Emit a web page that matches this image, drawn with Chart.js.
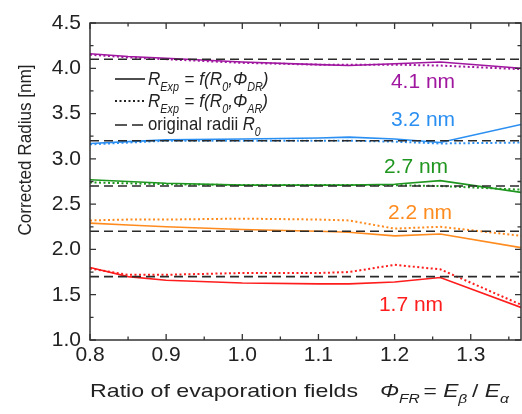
<!DOCTYPE html>
<html>
<head>
<meta charset="utf-8">
<script src="https://cdn.jsdelivr.net/npm/chart.js@4.4.0/dist/chart.umd.min.js"></script>
<style>
    html, body { margin: 0; padding: 0; background: #fff; }
    canvas { display: block; }
</style>
</head>
<body>
<canvas id="radiusChart" width="522" height="414"></canvas>
<script>
// Ratio of evaporation fields (x positions of the computed points)
const fieldRatios = [0.8, 0.85, 0.9, 1.0, 1.1, 1.14, 1.2, 1.26, 1.366];

// Solid lines: R_Exp = f(R0, Phi_DR); dotted lines: R_Exp = f(R0, Phi_AR)
const r41Dr = [4.16, 4.13, 4.11, 4.07, 4.04, 4.03, 4.05, 4.07, 4.00];
const r41Ar = [4.15, 4.12, 4.10, 4.06, 4.04, 4.04, 4.04, 4.03, 3.99];
const r32Dr = [3.17, 3.19, 3.21, 3.22, 3.23, 3.24, 3.22, 3.18, 3.38];
const r32Ar = [3.16, 3.18, 3.20, 3.20, 3.20, 3.20, 3.19, 3.17, 3.18];
const r27Dr = [2.77, 2.75, 2.73, 2.71, 2.71, 2.71, 2.72, 2.76, 2.63];
const r27Ar = [2.74, 2.73, 2.72, 2.71, 2.71, 2.71, 2.71, 2.70, 2.66];
const r22Dr = [2.29, 2.27, 2.25, 2.22, 2.20, 2.19, 2.15, 2.17, 2.02];
const r22Ar = [2.32, 2.33, 2.33, 2.34, 2.33, 2.32, 2.23, 2.25, 2.15];
const r17Dr = [1.80, 1.70, 1.66, 1.63, 1.62, 1.62, 1.64, 1.69, 1.36];
const r17Ar = [1.79, 1.72, 1.72, 1.74, 1.74, 1.75, 1.83, 1.78, 1.39];

// Original radii R0 and their labels
const originalRadii = [4.1, 3.2, 2.7, 2.2, 1.7];
const radiusLabels = ['4.1 nm', '3.2 nm', '2.7 nm', '2.2 nm', '1.7 nm'];
const radiusColors = ['#a0179f', '#2b8ff2', '#1f961f', '#ff8b1f', '#ff1c1c'];

const xTickValues = [0.8, 0.9, 1.0, 1.1, 1.2, 1.3];
const X_MIN = 0.8, X_MAX = 1.366, Y_MIN = 1.0, Y_MAX = 4.5;

const FONT = '"Liberation Sans", Arial, sans-serif';
const INK = '#222';

const toPoints = vals => vals.map((v, i) => ({ x: fieldRatios[i], y: v }));

const datasets = [];
[[r41Dr, r41Ar], [r32Dr, r32Ar], [r27Dr, r27Ar], [r22Dr, r22Ar], [r17Dr, r17Ar]].forEach((pair, i) => {
    datasets.push({
        data: toPoints(pair[0]), borderColor: radiusColors[i], borderWidth: 1.6,
        pointRadius: 0, tension: 0, order: 3
    });
    datasets.push({
        data: toPoints(pair[1]), borderColor: radiusColors[i], borderWidth: 2,
        borderDash: [2, 2.5], pointRadius: 0, tension: 0, order: 2
    });
});
originalRadii.forEach(r => {
    datasets.push({
        data: [{ x: X_MIN, y: r }, { x: X_MAX, y: r }], borderColor: '#2a2a2a', borderWidth: 1.6,
        borderDash: [9, 5], pointRadius: 0, order: 1
    });
});

// Draws a run of text pieces (italic / subscript) starting at x, baseline y
function drawRich(ctx, x, y, parts, size, subSize, sx) {
    ctx.save();
    ctx.translate(x, y);
    ctx.scale(sx, 1);
    let cx = 0;
    parts.forEach(p => {
        const fs = p.sub ? subSize : size;
        ctx.font = `${p.it ? 'italic ' : ''}${fs}px ${FONT}`;
        ctx.fillText(p.t, cx, p.sub ? size * 0.32 : 0);
        cx += ctx.measureText(p.t).width + (p.gap || 0);
    });
    ctx.restore();
}

const decorPlugin = {
    id: 'decor',
    afterDatasetsDraw(chart) {
        const { ctx, chartArea: a, scales } = chart;
        const xs = scales.x, ys = scales.y;
        ctx.save();

        // frame
        ctx.strokeStyle = '#333';
        ctx.lineWidth = 1.5;
        ctx.strokeRect(a.left, a.top, a.right - a.left, a.bottom - a.top);

        // inward ticks on all four sides
        ctx.lineWidth = 1.3;
        ctx.beginPath();
        for (let v = 0.8; v <= X_MAX + 1e-9; v += 0.05) {
            const px = xs.getPixelForValue(v);
            const major = Math.abs(Math.round(v * 10) - v * 10) < 1e-6;
            const len = major ? 6 : 3.5;
            ctx.moveTo(px, a.bottom); ctx.lineTo(px, a.bottom - len);
            ctx.moveTo(px, a.top); ctx.lineTo(px, a.top + len);
        }
        for (let v = Y_MIN; v <= Y_MAX + 1e-9; v += 0.25) {
            const py = ys.getPixelForValue(v);
            const major = Math.abs(Math.round(v * 2) - v * 2) < 1e-6;
            const len = major ? 6 : 3.5;
            ctx.moveTo(a.left, py); ctx.lineTo(a.left + len, py);
            ctx.moveTo(a.right, py); ctx.lineTo(a.right - len, py);
        }
        ctx.stroke();

        // legend
        ctx.strokeStyle = '#222';
        ctx.lineWidth = 1.6;
        const lx0 = 115, lx1 = 145;
        const rows = [79, 101, 125];
        ctx.setLineDash([]);
        ctx.beginPath(); ctx.moveTo(lx0, rows[0]); ctx.lineTo(lx1, rows[0]); ctx.stroke();
        ctx.lineWidth = 2;
        ctx.setLineDash([2, 2.5]);
        ctx.beginPath(); ctx.moveTo(lx0, rows[1]); ctx.lineTo(lx1, rows[1]); ctx.stroke();
        ctx.lineWidth = 1.6;
        ctx.setLineDash([12, 5]);
        ctx.beginPath(); ctx.moveTo(lx0, rows[2]); ctx.lineTo(lx1 - 2, rows[2]); ctx.stroke();
        ctx.setLineDash([]);

        ctx.fillStyle = INK;
        ctx.textBaseline = 'alphabetic';
        ctx.textAlign = 'left';
        const fitParts = sub => [
            { t: 'R', it: true }, { t: 'Exp', it: true, sub: true, gap: 1 },
            { t: ' = ' }, { t: 'f(R', it: true }, { t: '0', it: true, sub: true },
            { t: ',', it: true }, { t: 'Φ', it: true }, { t: sub, it: true, sub: true }, { t: ')', it: true }
        ];
        drawRich(ctx, 148, rows[0] + 6, fitParts('DR'), 19, 12, 0.9);
        drawRich(ctx, 148, rows[1] + 6, fitParts('AR'), 19, 12, 0.9);
        drawRich(ctx, 148, rows[2] + 5, [{ t: 'original radii ' }, { t: 'R', it: true }, { t: '0', it: true, sub: true }], 19, 12, 0.88);

        // radius labels
        const labelPos = [[423, 82], [423, 120], [416, 167], [420, 213], [411, 305]];
        ctx.textAlign = 'center';
        ctx.textBaseline = 'middle';
        ctx.font = `21px ${FONT}`;
        radiusLabels.forEach((t, i) => {
            ctx.fillStyle = radiusColors[i];
            ctx.fillText(t, labelPos[i][0], labelPos[i][1]);
        });

        // axis titles
        ctx.fillStyle = INK;
        ctx.textAlign = 'left';
        ctx.textBaseline = 'alphabetic';
        drawRich(ctx, 90, 397, [{ t: 'Ratio of evaporation fields' }], 19, 12, 1.22);
        drawRich(ctx, 380, 397, [
            { t: 'Φ', it: true }, { t: 'FR', it: true, sub: true, gap: 3 }, { t: '= ' },
            { t: 'E', it: true }, { t: 'β', it: true, sub: true, gap: 4 }, { t: '/ ' },
            { t: 'E', it: true }, { t: 'α', it: true, sub: true }
        ], 19, 13, 1.2);

        ctx.save();
        ctx.translate(31, 150);
        ctx.rotate(-Math.PI / 2);
        ctx.scale(0.9, 1);
        ctx.textAlign = 'center';
        ctx.font = `19px ${FONT}`;
        ctx.fillText('Corrected Radius [nm]', 0, 0);
        ctx.restore();

        ctx.restore();
    }
};

new Chart(document.getElementById('radiusChart'), {
    type: 'line',
    data: { datasets: datasets },
    options: {
        responsive: false,
        animation: false,
        devicePixelRatio: 1,
        layout: { padding: { top: 23, right: 1, left: 0, bottom: 0 } },
        plugins: { legend: { display: false }, tooltip: { enabled: false } },
        scales: {
            x: {
                type: 'linear', min: X_MIN, max: X_MAX,
                grid: { display: false, drawTicks: false },
                border: { display: false },
                ticks: {
                    font: { size: 21, family: FONT }, color: INK, padding: 3,
                    callback: v => v.toFixed(1)
                },
                afterBuildTicks: s => { s.ticks = xTickValues.map(v => ({ value: v })); },
                afterFit: s => { s.height = 74; }
            },
            y: {
                type: 'linear', min: Y_MIN, max: Y_MAX,
                grid: { display: false, drawTicks: false },
                border: { display: false },
                ticks: {
                    stepSize: 0.5, font: { size: 21, family: FONT }, color: INK, padding: 9,
                    callback: v => v.toFixed(1)
                },
                afterFit: s => { s.width = 90; }
            }
        }
    },
    plugins: [decorPlugin]
});
</script>
</body>
</html>
